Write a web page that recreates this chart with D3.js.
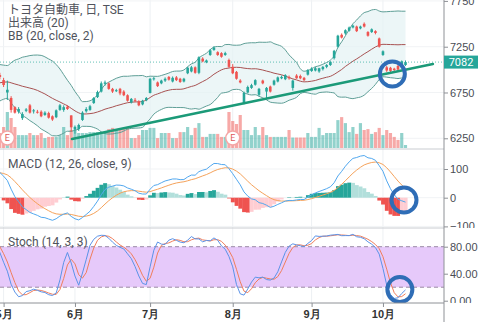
<!DOCTYPE html>
<html><head><meta charset="utf-8">
<script src="https://cdn.jsdelivr.net/npm/d3@7"></script>
<style>html,body{margin:0;padding:0;background:#fff;}svg{display:block;font-family:Roboto,"Noto Sans CJK JP",sans-serif;}</style>
</head><body><svg id="c" width="480" height="322"></svg>
<script>
// ---------- DATA ----------
const firstDay = "2019-03-18", lastDay = "2019-10-09";
const holidays = ["2019-03-21","2019-04-29","2019-04-30","2019-05-01","2019-05-02","2019-05-03","2019-05-06","2019-07-15","2019-08-12","2019-09-16","2019-09-23"];
const earnings = ["2019-05-08","2019-08-01"];
// warm-up bars (off-screen, left of the view) feeding the indicators
const warmOpen  = [6540,6570,6590,6550,6580,6510,6560,6600,6590,6660,6710,6730,6770,6790,6800,6780,6760,6750,6780,6830,6890,6930,6960,6940,6970,7000,7000,6960,6940];
const warmHigh  = [6585,6615,6615,6625,6605,6585,6615,6625,6665,6725,6745,6785,6805,6825,6825,6805,6785,6795,6845,6905,6945,6985,6985,6995,7015,7035,7025,6985,6965];
const warmLow   = [6515,6545,6535,6525,6495,6485,6535,6555,6565,6635,6685,6705,6745,6765,6755,6735,6715,6725,6755,6805,6865,6905,6905,6915,6945,6965,6945,6915,6895];
const warmClose = [6560,6590,6560,6600,6520,6560,6590,6580,6640,6700,6720,6760,6780,6800,6780,6760,6740,6770,6820,6880,6920,6960,6930,6970,6990,7010,6970,6940,6920];
const warmVol   = [5,5,5,5,5,5,5,5,5,5,5,5,5,5,5,5,5,5,5,5,5,5,5,5,5,5,5,5,5];
// visible bars (2019-05-07 .. 2019-10-09)
const open  = [6886,6750,6690,6590,6540,6470,6550,6610,6545,6540,6540,6505,6525,6490,6480,6560,6560,6595,6500,
 6345,6350,6450,6545,6560,6635,6700,6760,6845,6850,6790,6770,6790,6760,6720,6640,6670,6650,6620,6665,
 6745,6895,6860,6850,6880,6920,6870,6915,6900,6870,6960,6980,7025,6965,7120,7080,7160,7215,7190,7180,7160,7105,
 7030,6975,6880,6635,6750,6800,6835,6725,6880,6760,6815,6835,6870,6905,6895,6920,6800,6935,6930,6910,6945,
 6985,6990,6980,7005,7030,7050,7125,7250,7380,7395,7425,7460,7470,7450,7500,7410,7410,7420,7340,
 7160,7025,7020,7010,7040,7040,7050];
const high  = [6910,6880,6710,6600,6590,6535,6580,6625,6570,6560,6555,6545,6540,6500,6565,6625,6610,6610,6500,
 6390,6410,6545,6590,6615,6700,6770,6870,6880,6860,6800,6790,6800,6775,6730,6690,6690,6665,6670,6700,
 6910,6920,6870,6890,6915,6930,6925,6930,6910,6910,7030,7040,7035,7145,7135,7110,7225,7255,7200,7190,7195,7120,
 7060,6985,6895,6760,6825,6845,6895,6800,6890,6810,6825,6890,6925,6935,6950,6935,6890,6950,6945,6920,7005,
 7025,7030,7020,7040,7060,7090,7215,7380,7395,7440,7470,7490,7480,7480,7515,7420,7450,7430,7350,
 7210,7040,7030,7020,7050,7100,7100];
const low   = [6810,6668,6530,6520,6520,6450,6535,6520,6520,6520,6480,6495,6465,6440,6470,6550,6540,6560,6320,
 6300,6330,6440,6530,6550,6625,6690,6750,6825,6780,6745,6755,6720,6710,6650,6630,6645,6600,6610,6655,
 6740,6880,6810,6840,6865,6880,6860,6875,6855,6860,6950,6970,6955,6950,7080,7070,7150,7205,7150,7130,7150,7020,
 6950,6890,6850,6620,6740,6790,6825,6710,6840,6690,6750,6825,6860,6895,6885,6890,6770,6900,6895,6875,6935,
 6975,6980,6965,6990,7015,7040,7110,7240,7340,7380,7415,7450,7410,7440,7460,7360,7400,7385,7240,
 7150,6975,6970,6975,6990,7030,7040];
const close = [6832,6780,6560,6530,6570,6515,6565,6530,6555,6535,6490,6530,6475,6455,6555,6610,6590,6570,6370,
 6375,6395,6530,6570,6600,6690,6755,6850,6860,6790,6760,6775,6740,6720,6660,6680,6660,6610,6660,6690,
 6900,6905,6820,6880,6900,6890,6910,6885,6865,6900,7020,7025,6965,7135,7090,7100,7210,7240,7160,7140,7180,7030,
 6960,6900,6860,6745,6810,6830,6885,6790,6850,6800,6760,6880,6915,6920,6940,6905,6880,6905,6905,6885,6995,
 7010,7015,7015,7030,7050,7085,7205,7370,7350,7430,7460,7480,7420,7470,7470,7370,7440,7400,7250,
 7200,6990,6985,6995,7000,7090,7082];
const volume = [7,12,10,7,4.3,4.3,4.3,5,4.3,4.3,5,3.3,3.7,3.7,3.7,4.3,7,4.3,6,
 6,5,5,5,5.3,5.3,5.3,5.3,5.3,6.3,6.7,6,6.3,6.7,7,3.3,3.3,4.3,6,6,
 6.7,6.7,3.3,5,5,5,3.3,3.3,5.3,5.3,7,4.3,6.7,8.3,3.7,3.7,4.7,4.7,4.7,3.7,3.7,12,
 9,8,11,6,6,4.3,7,4.3,7,4.3,3.7,3.7,3.7,3.7,3.7,6,3.5,3.5,3.5,3.5,5,
 3.7,3.7,6.7,4.3,5,5,5,9.3,10.3,8.3,5.3,7,4.7,8.3,6,6.3,4.7,5.3,6.7,
 4.3,6,5,3.7,2.7,5,1];
const priceTicks = [6250,6750,7250,7750];
const macdTicks = [-100,0,100];
const stochTicks = [0,40,80];
const stochBand = [20,80];
const lastPrice = 7082;
// trend line: [visible bar index, price]
const trendBar = [18.2, 114.3];
const trendPrice = [6242, 7061];
// highlight circles: [visible bar index, value]
const circlePrice = [103.5, 6952];
const circleMacd = [106.6, -8];
const circleStoch = [105.5, 16.6];
const titles = ["トヨタ自動車, 日, TSE","出来高 (20)","BB (20, close, 2)","MACD (12, 26, close, 9)","Stoch (14, 3, 3)"];

// ---------- BUILD ----------
const parse = d3.timeParse("%Y-%m-%d"), fmt = d3.timeFormat("%Y-%m-%d");
const dates = d3.timeDay.range(parse(firstDay), d3.timeDay.offset(parse(lastDay),1))
  .filter(d => d.getDay()!==0 && d.getDay()!==6 && !holidays.includes(fmt(d)));
const O = warmOpen.concat(open), Hh = warmHigh.concat(high), L = warmLow.concat(low), C = warmClose.concat(close), V = warmVol.concat(volume);
const N = C.length, S = warmClose.length;

function ema(a,n){const k=2/(n+1);let p=null;return a.map(v=>{if(v==null)return null;p=(p==null)?v:v*k+p*(1-k);return p;});}
function sma(a,n){return a.map((v,i)=>{if(i<n-1)return null;const w=a.slice(i-n+1,i+1);if(w.some(x=>x==null))return null;return d3.mean(w);});}
const e12=ema(C,12), e26=ema(C,26);
const macd=C.map((v,i)=>e12[i]-e26[i]);
const signal=ema(macd,9);
const hist=macd.map((v,i)=>v-signal[i]);
const bb=C.map((v,i)=>{if(i<19)return null;const w=C.slice(i-19,i+1);const m=d3.mean(w);const sd=Math.sqrt(d3.mean(w.map(x=>(x-m)*(x-m))));return {m,u:m+2*sd,l:m-2*sd};});
const rawK=C.map((v,i)=>{if(i<13)return null;const hh=d3.max(Hh.slice(i-13,i+1)),ll=d3.min(L.slice(i-13,i+1));return 100*(v-ll)/(hh-ll);});
const K=sma(rawK,3), D=sma(K,3);

const svg=d3.select("#c");
const plotR=444;
const P={top:0,bot:149}, M={top:149,bot:228}, St={top:228,bot:303};
const x=d3.scaleLinear().domain([S,N-1]).range([3.6,405.5]);
const step=x(S+1)-x(S);
const yP=d3.scaleLinear().domain([6133,7760]).range([P.bot,P.top]);
const yV=d3.scaleLinear().domain([0,12]).range([P.bot-1,112]);
const yM=d3.scaleLinear().domain([-105.6,169.7]).range([M.bot,M.top]);
const yS=d3.scaleLinear().domain([-3.4,107.7]).range([St.bot,St.top]);

const defs=svg.append("defs");
[["cp",P],["cm",M],["cs",St]].forEach(([id,p])=>defs.append("clipPath").attr("id",id).append("rect").attr("x",0).attr("y",p.top).attr("width",plotR).attr("height",p.bot-p.top));
[["ca",P],["cb",M],["cc",St]].forEach(([id,p])=>defs.append("clipPath").attr("id",id).append("rect").attr("x",plotR).attr("y",p.top).attr("width",480-plotR).attr("height",p.bot-p.top));

const monthTicks=d3.range(S,N).filter(k=>k===S||dates[k].getMonth()!==dates[k-1].getMonth());

// grids
const grid=svg.append("g");
grid.selectAll("line.v").data(monthTicks).join("line").attr("x1",d=>x(d)).attr("x2",d=>x(d)).attr("y1",0).attr("y2",St.bot).attr("stroke","#edf0f3");
grid.selectAll("line.hp").data(priceTicks).join("line").attr("x1",0).attr("x2",plotR).attr("y1",d=>yP(d)).attr("y2",d=>yP(d)).attr("stroke","#f1f3f5");
grid.selectAll("line.hm").data(macdTicks).join("line").attr("x1",0).attr("x2",plotR).attr("y1",d=>yM(d)).attr("y2",d=>yM(d)).attr("stroke","#f1f3f5");

// ---- price pane ----
const gp=svg.append("g").attr("clip-path","url(#cp)");
const idx=d3.range(0,N);
const bbIdx=idx.filter(i=>bb[i]);
gp.append("path").datum(bbIdx).attr("fill","#e4f2f3").attr("fill-opacity",0.7)
  .attr("d",d3.area().x(i=>x(i)).y0(i=>yP(bb[i].l)).y1(i=>yP(bb[i].u)).curve(d3.curveMonotoneX));
gp.selectAll("rect.vol").data(idx).join("rect")
  .attr("x",i=>x(i)-step/2+0.3).attr("width",step-0.6).attr("y",i=>yV(V[i])).attr("height",i=>yV(0)-yV(V[i]))
  .attr("fill",i=>C[i]>=O[i]?"#26a69a":"#ef5350").attr("fill-opacity",0.5);
const bline=(f,col)=>gp.append("path").datum(bbIdx).attr("fill","none").attr("stroke",col).attr("stroke-width",1)
  .attr("d",d3.line().x(i=>x(i)).y(i=>yP(f(bb[i]))).curve(d3.curveMonotoneX));
bline(b=>b.u,"#5f9f97");bline(b=>b.l,"#5f9f97");bline(b=>b.m,"#a85252");
// last price dotted line
gp.append("line").attr("x1",0).attr("x2",plotR).attr("y1",yP(lastPrice)).attr("y2",yP(lastPrice)).attr("stroke","#26a69a").attr("stroke-opacity",0.7).attr("stroke-dasharray","1,2");
// candles
const cg=gp.selectAll("g.c").data(idx).join("g");
cg.append("line").attr("x1",i=>x(i)).attr("x2",i=>x(i)).attr("y1",i=>yP(Hh[i])).attr("y2",i=>yP(L[i])).attr("stroke",i=>C[i]>=O[i]?"#26a69a":"#ef5350");
cg.append("rect").attr("x",i=>x(i)-1.3).attr("width",2.6).attr("y",i=>yP(Math.max(O[i],C[i]))).attr("height",i=>Math.max(1,Math.abs(yP(O[i])-yP(C[i]))))
  .attr("fill",i=>C[i]>=O[i]?"#26a69a":"#ef5350");
// earnings markers
const eIdx=earnings.map(e=>dates.findIndex(d=>fmt(d)===e));
const eg=gp.selectAll("g.e").data(eIdx).join("g").attr("transform",i=>`translate(${x(i)},${138})`);
eg.append("circle").attr("r",7).attr("fill","#fff").attr("stroke","#f4a6a6").attr("stroke-width",1.5);
eg.append("text").text("E").attr("text-anchor","middle").attr("dy","0.35em").attr("font-size",9).attr("fill","#e05a5a");
// trend line
gp.append("line").attr("x1",x(S+trendBar[0])).attr("y1",yP(trendPrice[0])).attr("x2",x(S+trendBar[1])).attr("y2",yP(trendPrice[1]))
  .attr("stroke","#1b9a78").attr("stroke-width",2.5).attr("stroke-linecap","round");
gp.append("circle").attr("cx",x(S+circlePrice[0])).attr("cy",yP(circlePrice[1])).attr("r",12.5).attr("fill","none").attr("stroke","#2f6db6").attr("stroke-width",4);

// ---- MACD pane ----
const gm=svg.append("g").attr("clip-path","url(#cm)");
gm.selectAll("rect.h").data(idx.slice(1)).join("rect")
  .attr("x",i=>x(i)-step/2).attr("width",step+0.2)
  .attr("y",i=>Math.min(yM(0),yM(hist[i]))).attr("height",i=>Math.abs(yM(hist[i])-yM(0)))
  .attr("fill",i=>hist[i]>=0?(hist[i]>=hist[i-1]?"#26a69a":"#b2dfdb"):(hist[i]<hist[i-1]?"#ef5350":"#ffcdd2"));
gm.append("path").datum(idx).attr("fill","none").attr("stroke","#f5a25a").attr("stroke-width",1).attr("d",d3.line().x(i=>x(i)).y(i=>yM(signal[i])));
gm.append("path").datum(idx).attr("fill","none").attr("stroke","#52a8ef").attr("stroke-width",1).attr("d",d3.line().x(i=>x(i)).y(i=>yM(macd[i])));
gm.append("circle").attr("cx",x(S+circleMacd[0])).attr("cy",yM(circleMacd[1])).attr("r",12.5).attr("fill","none").attr("stroke","#2f6db6").attr("stroke-width",4);

// ---- Stoch pane ----
const gs=svg.append("g").attr("clip-path","url(#cs)");
gs.append("rect").attr("x",0).attr("width",plotR).attr("y",yS(stochBand[1])).attr("height",yS(stochBand[0])-yS(stochBand[1])).attr("fill","#e6c9fa");
gs.selectAll("line.b").data(stochBand).join("line").attr("x1",0).attr("x2",plotR).attr("y1",d=>yS(d)).attr("y2",d=>yS(d))
  .attr("stroke","#9b8aa5").attr("stroke-dasharray","4,3");
const kIdx=idx.filter(i=>K[i]!=null), dIdx=idx.filter(i=>D[i]!=null);
gs.append("path").datum(dIdx).attr("fill","none").attr("stroke","#f07e5c").attr("stroke-width",1).attr("d",d3.line().x(i=>x(i)).y(i=>yS(D[i])));
gs.append("path").datum(kIdx).attr("fill","none").attr("stroke","#5b93e8").attr("stroke-width",1).attr("d",d3.line().x(i=>x(i)).y(i=>yS(K[i])));
gs.append("circle").attr("cx",x(S+circleStoch[0])).attr("cy",yS(circleStoch[1])).attr("r",12.5).attr("fill","none").attr("stroke","#2f6db6").attr("stroke-width",4);

// ---- separators / axes ----
svg.append("line").attr("x1",0).attr("x2",plotR).attr("y1",P.bot).attr("y2",P.bot).attr("stroke","#c9ccd1");
svg.append("line").attr("x1",0).attr("x2",plotR).attr("y1",M.bot).attr("y2",M.bot).attr("stroke","#c9ccd1");
svg.append("line").attr("x1",plotR).attr("x2",plotR).attr("y1",0).attr("y2",322).attr("stroke","#8e9196");
const styleAxis=g=>{g.select(".domain").remove();g.selectAll("line").attr("stroke","#8e9196");g.selectAll("text").attr("fill","#4a4d55").attr("font-size",11);};
svg.append("g").attr("clip-path","url(#ca)").append("g").attr("transform",`translate(${plotR},0)`)
  .call(d3.axisRight(yP).tickValues(priceTicks).tickFormat(d3.format("d")).tickSize(4).tickPadding(2)).call(styleAxis);
svg.append("g").attr("clip-path","url(#cb)").append("g").attr("transform",`translate(${plotR},0)`)
  .call(d3.axisRight(yM).tickValues(macdTicks).tickFormat(d3.format("d")).tickSize(4).tickPadding(2)).call(styleAxis);
svg.append("g").attr("clip-path","url(#cc)").append("g").attr("transform",`translate(${plotR},0)`)
  .call(d3.axisRight(yS).tickValues(stochTicks).tickFormat(d3.format(".2f")).tickSize(4).tickPadding(2)).call(styleAxis);
// last price tag
const tag=svg.append("g").attr("transform",`translate(${plotR},${yP(lastPrice)})`);
tag.append("rect").attr("x",0).attr("y",-6.5).attr("width",34).attr("height",13).attr("fill","#26a69a");
tag.append("text").text(d3.format("d")(lastPrice)).attr("x",17).attr("dy","0.35em").attr("text-anchor","middle").attr("fill","#fff").attr("font-size",11);
// x axis
const xa=svg.append("g").attr("transform",`translate(0,${St.bot})`)
  .call(d3.axisBottom(x).tickValues(monthTicks).tickFormat(k=>(dates[k].getMonth()+1)+"月").tickSize(4).tickPadding(3));
xa.select(".domain").attr("stroke","#8e9196").attr("d",`M0,0H${plotR}`);
xa.selectAll("line").attr("stroke","#8e9196");
xa.selectAll("text").attr("fill","#333").attr("font-size",11).attr("font-weight","bold");

// titles
const title=(t,y)=>svg.append("text").text(t).attr("x",8).attr("y",y).attr("font-size",12).attr("fill","#50535c");
title(titles[0],14);title(titles[1],27);title(titles[2],40);
title(titles[3],168);title(titles[4],246);
</script></body></html>
